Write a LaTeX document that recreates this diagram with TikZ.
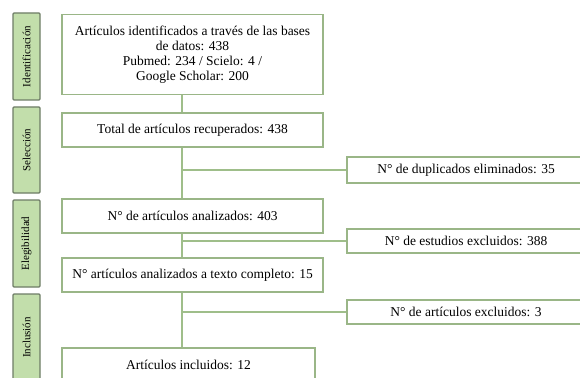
\documentclass[tikz,border=0pt]{standalone}
\usepackage{fontspec}
\setmainfont{Liberation Serif}
\usetikzlibrary{shadows}
\definecolor{boxline}{HTML}{9AB687}
\definecolor{tabfill}{HTML}{C2DEAB}
\definecolor{tabline}{HTML}{6E7D66}
\definecolor{conncol}{HTML}{9FBE8A}
\tikzset{
  mainbox/.style={draw=boxline, line width=1.1pt, fill=white, rectangle, inner sep=0pt,
    align=center, font=\fontsize{13.5}{15}\selectfont, text=black,
    drop shadow={shadow xshift=1pt, shadow yshift=-1pt, opacity=0.25, fill=black!60}},
  tabbox/.style={draw=tabline, line width=1.3pt, fill=tabfill, rectangle, rounded corners=1pt,
    inner sep=0pt},
  tablabel/.style={rotate=90, font=\fontsize{11}{12}\selectfont, text=black},
  conn/.style={draw=conncol, line width=1.2pt}
}
\begin{document}
\begin{tikzpicture}[x=1pt,y=-1pt]
\useasboundingbox (0,0) rectangle (580,377);
\clip (0,0) rectangle (580,377);
\fill[white] (0,0) rectangle (580,377);
% side tabs
\node[tabbox, minimum width=27pt, minimum height=87pt] (T1) at (26.5,56.5) {};
\node[tablabel] (L1) at (T1.center) {Identificación};
\node[tabbox, minimum width=27pt, minimum height=86pt] (T2) at (26.5,150) {};
\node[tablabel] (L2) at (T2.center) {Selección};
\node[tabbox, minimum width=27pt, minimum height=87pt] (T3) at (26.5,243.5) {};
\node[tablabel] (L3) at (T3.center) {Elegibilidad};
\node[tabbox, minimum width=27pt, minimum height=87pt] (T4) at (26.5,337.5) {};
\node[tablabel] (L4) at (T4.center) {Inclusión};
% main boxes
\node[mainbox, minimum width=261pt, minimum height=80pt] (B1) at (192.5,54.5)
  {Artículos identificados a través de las bases\\de datos: 438\\Pubmed: 234 / Scielo: 4 /\\Google Scholar: 200};
\node[mainbox, minimum width=261pt, minimum height=34pt] (B2) at (192.5,130) {Total de artículos recuperados: 438};
\node[mainbox, minimum width=261pt, minimum height=34pt] (B3) at (192.5,216) {N° de artículos analizados: 403};
\node[mainbox, minimum width=261pt, minimum height=34pt] (B4) at (192.5,275) {N° artículos analizados a texto completo: 15};
\node[mainbox, minimum width=253pt, minimum height=34pt] (B5) at (188.5,365) {Artículos incluidos: 12};
% right boxes
\node[mainbox, minimum width=250pt, minimum height=26pt] (R1) at (472,170) {\hspace*{-12pt}N° de duplicados eliminados: 35};
\node[mainbox, minimum width=250pt, minimum height=24pt] (R2) at (472,241) {\hspace*{-12pt}N° de estudios excluidos: 388};
\node[mainbox, minimum width=250pt, minimum height=24pt] (R3) at (472,312) {\hspace*{-12pt}N° de artículos excluidos: 3};
% connectors
\coordinate (vx) at (182,0);
\draw[conn] (B1.south -| vx) -- (B2.north -| vx);
\draw[conn] (B2.south -| vx) -- (B3.north -| vx);
\draw[conn] (B3.south -| vx) -- (B4.north -| vx);
\draw[conn] (B4.south -| vx) -- (B5.north -| vx);
\draw[conn] (R1.west -| vx) -- (R1.west);
\draw[conn] (R2.west -| vx) -- (R2.west);
\draw[conn] (R3.west -| vx) -- (R3.west);
\end{tikzpicture}
\end{document}
